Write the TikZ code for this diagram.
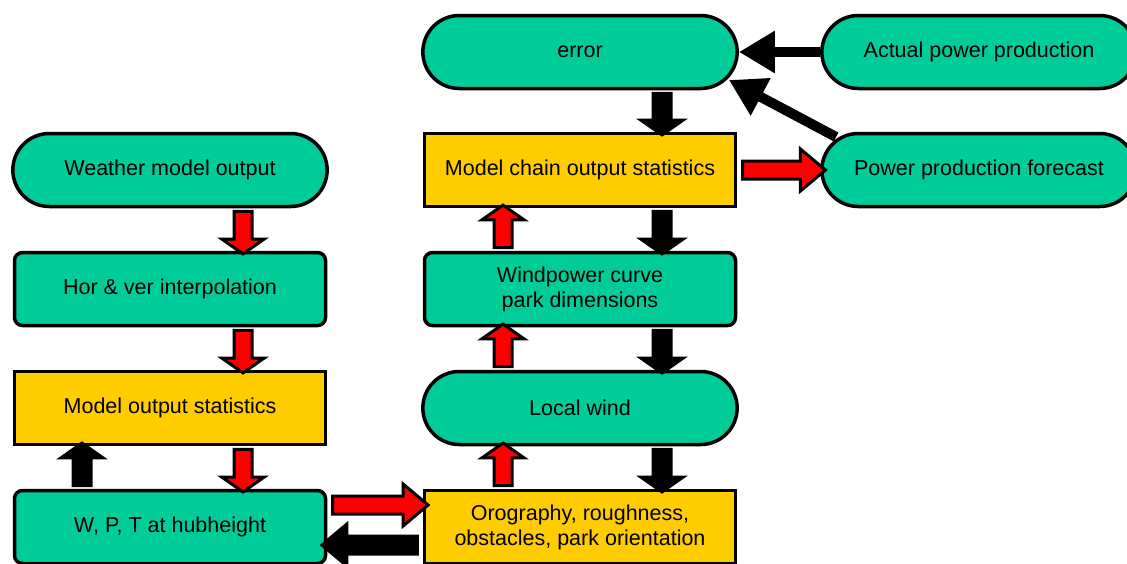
\documentclass[tikz,border=0pt]{standalone}
\usepackage{fontspec}
\setmainfont{Liberation Sans}
\usepackage{tikz}
\usetikzlibrary{
	arrows.meta,
	positioning,
	calc,
	shapes.arrows,
	shapes.misc
}
\usepackage{xcolor}
\definecolor{boxgreen}{RGB}{0,204,153}
\definecolor{boxyellow}{RGB}{255,204,0}

% block arrow between two anchors: style, from, to
\newcommand\blockarrow[3]{%
	\path let \p1=(#2), \p2=(#3),
		\n1={veclen(\x2-\x1,\y2-\y1)},
		\n2={atan2(\y2-\y1,\x2-\x1)} in
		($(\p1)!0.5!(\p2)$) node[#1, minimum height=\n1, rotate=\n2] {};}

\begin{document}
\begin{tikzpicture}[
		x=1pt, y=-1pt,
		font=\fontsize{21.5}{25}\selectfont,
		base/.style={
			draw,
			line width=3.5pt,
			minimum width=311pt,
			minimum height=73pt,
			align=center
		},
		stadium/.style={base, rounded rectangle, fill=boxgreen, minimum width=321pt},
		greenbox/.style={base, rectangle, rounded corners=8pt, fill=boxgreen},
		yellowbox/.style={base, rectangle, fill=boxyellow},
		redarrow/.style={
			single arrow,
			draw=black,
			fill=red,
			line width=3pt,
			inner sep=7.5pt,
			single arrow head extend=12pt,
			single arrow tip angle=110
		},
		blackarrow/.style={redarrow, fill=black},
		feedback/.style={
			line width=10pt,
			-{Triangle[length=36pt,width=40pt]}
		}
		]
		\useasboundingbox (0,0) rectangle (1127,563);
		\clip (0,0) rectangle (1127,563);
		
		% Left column
		\node[stadium] (weather) at (170,170) {Weather model output};
		\node[greenbox] (hor) at (170,289) {Hor \& ver interpolation};
		\node[yellowbox] (mos) at (170,408) {Model output statistics};
		\node[greenbox] (wpt) at (170,527) {W, P, T at hubheight};
		
		% Right column
		\node[stadium] (error) at (580,52) {error};
		\node[yellowbox] (chain) at (580,170) {Model chain output statistics};
		\node[greenbox] (wind) at (580,289) {Windpower curve\\park dimensions};
		\node[stadium] (local) at (580,408) {Local wind};
		\node[yellowbox] (oro) at (580,527) {Orography, roughness,\\obstacles, park orientation};
		
		% Far right
		\node[stadium] (actual) at (979,52) {Actual power production};
		\node[stadium] (forecast) at (979,170) {Power production forecast};
		
		% Left column arrows
		\blockarrow{redarrow}{[xshift=73]weather.south}{[xshift=73]hor.north}
		\blockarrow{redarrow}{[xshift=73]hor.south}{[xshift=73]mos.north}
		\blockarrow{redarrow}{[xshift=73]mos.south}{[xshift=73]wpt.north}
		\blockarrow{blackarrow}{[xshift=-88]wpt.north}{[xshift=-88]mos.south}
		
		% Between columns
		\blockarrow{redarrow,single arrow tip angle=80}{[yshift=22]wpt.east}{[yshift=22]oro.west}
		\blockarrow{blackarrow,single arrow tip angle=80}{[yshift=-18]oro.west}{[yshift=-18]wpt.east}
		
		% Right column arrows
		\blockarrow{redarrow}{[xshift=-77]oro.north}{[xshift=-77]local.south}
		\blockarrow{redarrow}{[xshift=-77]local.north}{[xshift=-77]wind.south}
		\blockarrow{redarrow}{[xshift=-77]wind.north}{[xshift=-77]chain.south}
		\blockarrow{blackarrow}{[xshift=82]error.south}{[xshift=82]chain.north}
		\blockarrow{blackarrow}{[xshift=82]chain.south}{[xshift=82]wind.north}
		\blockarrow{blackarrow}{[xshift=82]wind.south}{[xshift=82]local.north}
		\blockarrow{blackarrow}{[xshift=82]local.south}{[xshift=82]oro.north}
		
		% Forecast and error
		\blockarrow{redarrow,single arrow tip angle=80}{chain.east}{forecast.west}
		\draw[feedback] (actual.west) -- (error.east);
		\draw[feedback] ([xshift=16,yshift=33]forecast.west) -- ([xshift=-10,yshift=-28]error.east);
		
	\end{tikzpicture}
\end{document}
